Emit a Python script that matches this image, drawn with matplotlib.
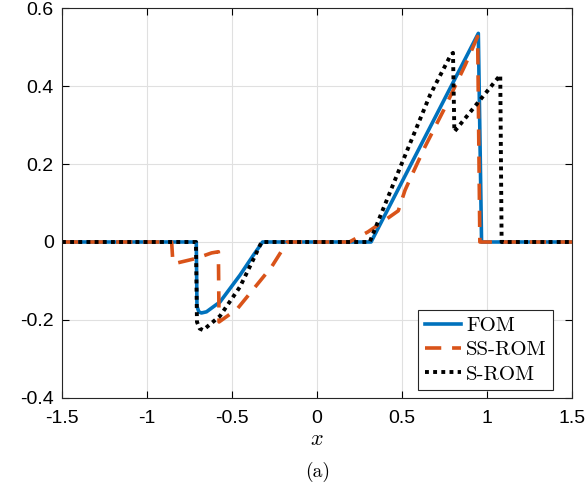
import numpy as np
import matplotlib
matplotlib.use("Agg")
import matplotlib.pyplot as plt

plt.rcParams['font.family'] = ['Liberation Sans', 'DejaVu Sans']
plt.rcParams['mathtext.fontset'] = 'cm'
plt.rcParams['axes.unicode_minus'] = False

# FOM
fom_x = [-1.5, -0.71, -0.706, -0.695, -0.68, -0.65, -0.6, -0.571, -0.453, -0.376, -0.32,
         0.318, 0.949, 0.968, 1.5]
fom_y = [0, 0, -0.165, -0.179, -0.182, -0.179, -0.163, -0.154, -0.085, -0.035, 0,
         0, 0.535, 0, 0]

# SS-ROM
ss_x = [-1.5, -0.855, -0.848, -0.835, -0.71, -0.62, -0.58, -0.576, -0.47, -0.335, -0.266, -0.175,
        0.19, 0.30, 0.40, 0.478, 0.518, 0.567, 0.635, 0.745, 0.872, 0.945, 0.958, 0.966, 1.5]
ss_y = [0, 0, -0.05, -0.055, -0.042, -0.028, -0.025, -0.205, -0.172, -0.10, -0.063, 0,
        0, 0.026, 0.056, 0.08, 0.133, 0.18, 0.244, 0.338, 0.454, 0.527, 0, 0, 0]

# S-ROM
s_x = [-1.5, -0.712, -0.706, -0.69, -0.67, -0.571, -0.453, -0.376, -0.326,
       0.31, 0.469, 0.665, 0.785, 0.80, 0.808, 1.078, 1.086, 1.5]
s_y = [0, 0, -0.205, -0.222, -0.226, -0.19, -0.115, -0.046, 0,
       0, 0.17, 0.377, 0.478, 0.485, 0.283, 0.428, 0, 0]

xticks = [-1.5, -1, -0.5, 0, 0.5, 1, 1.5]
xtick_labels = ['-1.5', '-1', '-0.5', '0', '0.5', '1', '1.5']
yticks = [-0.4, -0.2, 0, 0.2, 0.4, 0.6]
ytick_labels = ['-0.4', '-0.2', '0', '0.2', '0.4', '0.6']

fig = plt.figure(figsize=(5.88, 4.97), dpi=100)
ax = fig.add_axes([0.1054, 0.1992, 0.8674, 0.7847])

ax.plot(fom_x, fom_y, color='#0072BD', lw=2.6, label='FOM')
ax.plot(ss_x, ss_y, color='#D95319', lw=2.6, linestyle=(0, (4.5, 3)), label='SS-ROM')
ax.plot(s_x, s_y, color='black', lw=2.8, linestyle=(0, (1, 1.1)), label='S-ROM')

ax.set_xlim(-1.5, 1.5)
ax.set_ylim(-0.4, 0.6)
ax.set_xticks(xticks)
ax.set_xticklabels(xtick_labels)
ax.set_yticks(yticks)
ax.set_yticklabels(ytick_labels)
ax.tick_params(direction='in', top=True, right=True, labelsize=14, length=5, width=0.8)
ax.tick_params(axis='x', pad=9)
ax.tick_params(axis='y', pad=6)
ax.grid(True, color='#e0e0e0', lw=0.8)
ax.set_axisbelow(True)
for s in ax.spines.values():
    s.set_linewidth(0.8)
    s.set_color('#262626')

ax.set_xlabel(r'$x$', fontsize=16, labelpad=1)
fig.text(0.54, 0.04, '(a)', family='cmr10', fontsize=14, ha='center')

leg = ax.legend(loc='lower right', bbox_to_anchor=(0.963, 0.0205),
                prop={'family': 'cmr10', 'size': 15},
                fancybox=False, edgecolor='#262626', framealpha=1,
                handlelength=1.75, borderpad=0.3, labelspacing=0.28,
                handletextpad=0.25, borderaxespad=0)
leg.get_frame().set_linewidth(0.8)

fig.savefig('out.png', dpi=100)
